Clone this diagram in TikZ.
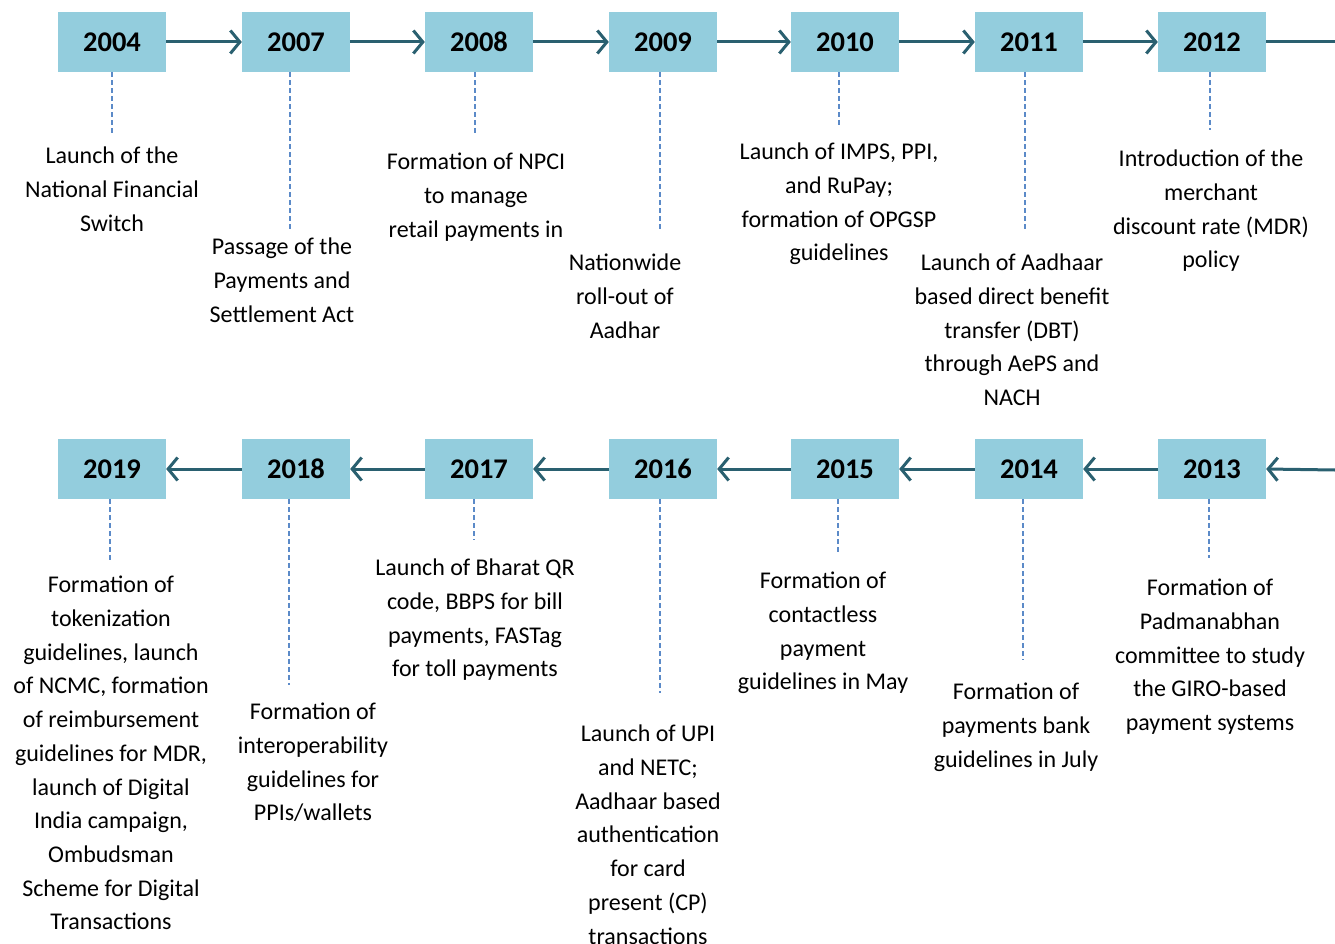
\documentclass[tikz,border=0pt]{standalone}
\usepackage{fontspec}
\setmainfont{Carlito}
\usetikzlibrary{arrows.meta}
\definecolor{boxblue}{HTML}{93CDDD}
\definecolor{arrteal}{HTML}{2A6070}
\definecolor{dashblue}{HTML}{5B8AC8}
\tikzset{
  yearbox/.style={fill=boxblue, draw=none, minimum width=108pt, minimum height=60pt, inner sep=0pt, font=\fontsize{28.5}{32}\selectfont\bfseries},
  flow/.style={draw=arrteal, line width=3pt, -{Straight Barb[length=9.5pt,width=23pt,line width=3pt]}},
  flowplain/.style={draw=arrteal, line width=3pt},
  leader/.style={draw=dashblue, line width=1.6pt, dash pattern=on 5pt off 3pt},
  desc/.style={align=center, anchor=north, inner sep=0pt, font=\fontsize{24}{33.7}\selectfont}
}
\begin{document}
\begin{tikzpicture}[x=1pt,y=-1pt]
\useasboundingbox (0,0) rectangle (1335,944);
% top row
\node[yearbox] (y2004) at (112,42) {2004};
\node[yearbox] (y2007) at (296,42) {2007};
\node[yearbox] (y2008) at (479,42) {2008};
\node[yearbox] (y2009) at (663,42) {2009};
\node[yearbox] (y2010) at (845,42) {2010};
\node[yearbox] (y2011) at (1029,42) {2011};
\node[yearbox] (y2012) at (1212,42) {2012};
% bottom row
\node[yearbox] (y2019) at (112,469) {2019};
\node[yearbox] (y2018) at (296,469) {2018};
\node[yearbox] (y2017) at (479,469) {2017};
\node[yearbox] (y2016) at (663,469) {2016};
\node[yearbox] (y2015) at (845,469) {2015};
\node[yearbox] (y2014) at (1029,469) {2014};
\node[yearbox] (y2013) at (1212,469) {2013};
\coordinate (outR) at (1335,42);
\coordinate (inR) at (1335,470);
% connectors
\draw[flow] (y2004) -- (y2007);
\draw[flow] (y2007) -- (y2008);
\draw[flow] (y2008) -- (y2009);
\draw[flow] (y2009) -- (y2010);
\draw[flow] (y2010) -- (y2011);
\draw[flow] (y2011) -- (y2012);
\draw[flowplain] (y2012.east) -- (outR);
\draw[flow] (inR) -- (y2013.east);
\draw[flow] (y2013) -- (y2014);
\draw[flow] (y2014) -- (y2015);
\draw[flow] (y2015) -- (y2016);
\draw[flow] (y2016) -- (y2017);
\draw[flow] (y2017) -- (y2018);
\draw[flow] (y2018) -- (y2019);
% leader ends
\coordinate (d2004) at (112,133);
\coordinate (d2007) at (290,232);
\coordinate (d2008) at (475,133);
\coordinate (d2009) at (660,232);
\coordinate (d2010) at (839,125);
\coordinate (d2011) at (1025,232);
\coordinate (d2012) at (1210,130);
\coordinate (d2019) at (110,562);
\coordinate (d2018) at (289,685);
\coordinate (d2017) at (474,540);
\coordinate (d2016) at (660,693);
\coordinate (d2015) at (838,555);
\coordinate (d2014) at (1023,660);
\coordinate (d2013) at (1209,558);
\foreach \y in {2004,2007,2008,2009,2010,2011,2012,2019,2018,2017,2016,2015,2014,2013}{
  \draw[leader] (y\y.south -| d\y) -- (d\y);
}
% descriptions
\node[desc] (t2004) at (112,147) {Launch of the\\National Financial\\Switch};
\node[desc] (t2007) at (282,238) {Passage of the\\Payments and\\Settlement Act};
\node[desc] (t2008) at (476,153) {Formation of NPCI\\to manage\\retail payments in};
\node[desc] (t2009) at (625,254) {Nationwide\\roll-out of\\Aadhar};
\node[desc] (t2010) at (839,143) {Launch of IMPS, PPI,\\and RuPay;\\formation of OPGSP\\guidelines};
\node[desc] (t2011) at (1012,254) {Launch of Aadhaar\\based direct benefit\\transfer (DBT)\\through AePS and\\NACH};
\node[desc] (t2012) at (1211,150) {Introduction of the\\merchant\\discount rate (MDR)\\policy};
\node[desc] (t2019) at (111,576) {Formation of\\tokenization\\guidelines, launch\\of NCMC, formation\\of reimbursement\\guidelines for MDR,\\launch of Digital\\India campaign,\\Ombudsman\\Scheme for Digital\\Transactions};
\node[desc] (t2018) at (313,703) {Formation of\\interoperability\\guidelines for\\PPIs/wallets};
\node[desc] (t2017) at (475,559) {Launch of Bharat QR\\code, BBPS for bill\\payments, FASTag\\for toll payments};
\node[desc] (t2016) at (648,725) {Launch of UPI\\and NETC;\\Aadhaar based\\authentication\\for card\\present (CP)\\transactions};
\node[desc] (t2015) at (823,572) {Formation of\\contactless\\payment\\guidelines in May};
\node[desc] (t2014) at (1016,683) {Formation of\\payments bank\\guidelines in July};
\node[desc] (t2013) at (1210,579) {Formation of\\Padmanabhan\\committee to study\\the GIRO-based\\payment systems};
\end{tikzpicture}
\end{document}
